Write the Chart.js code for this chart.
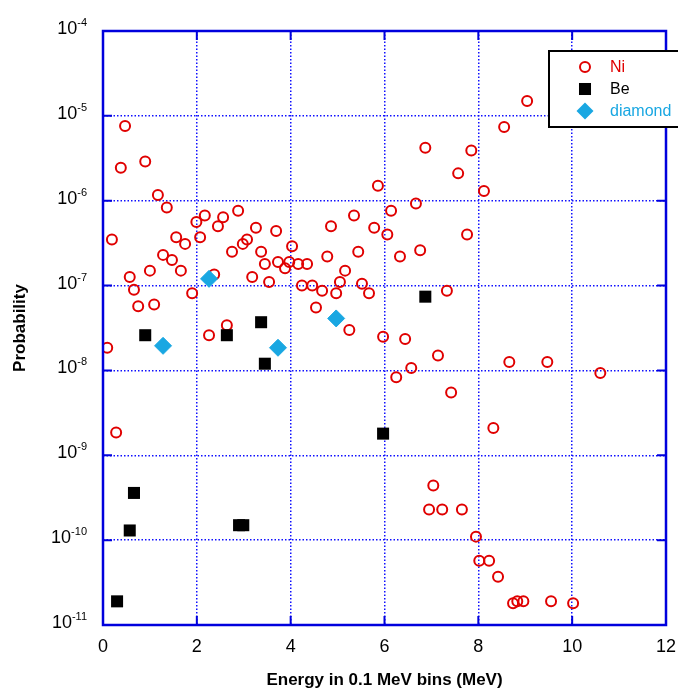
<!DOCTYPE html>
<html>
<head>
<meta charset="utf-8">
<script src="https://cdn.jsdelivr.net/npm/chart.js@4/dist/chart.umd.min.js"></script>
<style>
  body { margin: 0; background: #fff; }
  canvas { display: block; }
</style>
</head>
<body>
<canvas id="chart" width="678" height="691"></canvas>
<script>
// Ni points (energy, probability)
const niEnergy = [0.09, 0.19, 0.28, 0.38, 0.47, 0.57, 0.66, 0.75, 0.90, 1.00,
    1.09, 1.17, 1.28, 1.36, 1.47, 1.56, 1.66, 1.75, 1.90, 1.99,
    2.07, 2.17, 2.26, 2.37, 2.45, 2.56, 2.64, 2.75, 2.88, 2.98,
    3.07, 3.18, 3.26, 3.37, 3.45, 3.54, 3.69, 3.73, 3.88, 3.97,
    4.03, 4.16, 4.24, 4.35, 4.46, 4.54, 4.67, 4.78, 4.86, 4.97,
    5.05, 5.16, 5.25, 5.35, 5.44, 5.52, 5.67, 5.78, 5.86, 5.97,
    6.06, 6.14, 6.25, 6.33, 6.44, 6.57, 6.67, 6.76, 6.87, 6.95,
    7.04, 7.14, 7.23, 7.33, 7.42, 7.57, 7.65, 7.76, 7.85, 7.95,
    8.02, 8.12, 8.23, 8.32, 8.42, 8.55, 8.66, 8.74, 8.83, 8.96,
    9.04, 9.47, 9.55, 10.02, 10.6];
const niProb = [1.85e-8, 3.5e-7, 1.85e-9, 2.45e-6, 7.6e-6, 1.26e-7, 8.9e-8, 5.7e-8, 2.9e-6, 1.5e-7,
    6.0e-8, 1.17e-6, 2.3e-7, 8.3e-7, 2.0e-7, 3.7e-7, 1.5e-7, 3.1e-7, 8.1e-8, 5.6e-7,
    3.7e-7, 6.7e-7, 2.6e-8, 1.35e-7, 5.0e-7, 6.4e-7, 3.4e-8, 2.5e-7, 7.6e-7, 3.1e-7,
    3.5e-7, 1.26e-7, 4.8e-7, 2.5e-7, 1.8e-7, 1.1e-7, 4.4e-7, 1.9e-7, 1.6e-7, 1.9e-7,
    2.9e-7, 1.8e-7, 1.0e-7, 1.8e-7, 1.0e-7, 5.5e-8, 8.7e-8, 2.2e-7, 5.0e-7, 8.1e-8,
    1.1e-7, 1.5e-7, 3.0e-8, 6.7e-7, 2.5e-7, 1.05e-7, 8.1e-8, 4.8e-7, 1.5e-6, 2.5e-8,
    4.0e-7, 7.6e-7, 8.3e-9, 2.2e-7, 2.35e-8, 1.07e-8, 9.3e-7, 2.6e-7, 4.2e-6, 2.3e-10,
    4.4e-10, 1.5e-8, 2.3e-10, 8.7e-8, 5.5e-9, 2.1e-6, 2.3e-10, 4.0e-7, 3.9e-6, 1.1e-10,
    5.7e-11, 1.3e-6, 5.7e-11, 2.1e-9, 3.7e-11, 7.4e-6, 1.26e-8, 1.8e-11, 1.9e-11, 1.9e-11,
    1.5e-5, 1.26e-8, 1.9e-11, 1.8e-11, 9.3e-9];

// Be points
const beEnergy = [0.30, 0.57, 0.66, 0.90, 2.64, 2.90, 2.99, 3.37, 3.45, 5.97, 6.87];
const beProb = [1.9e-11, 1.3e-10, 3.6e-10, 2.6e-8, 2.6e-8, 1.5e-10, 1.5e-10, 3.7e-8, 1.2e-8, 1.8e-9, 7.4e-8];

// diamond points
const diaEnergy = [1.28, 2.26, 3.73, 4.97];
const diaProb = [1.95e-8, 1.2e-7, 1.85e-8, 4.1e-8];

// axis ticks
const xTicks = [0, 2, 4, 6, 8, 10, 12];
const yTickExps = [-11, -10, -9, -8, -7, -6, -5, -4];

const FONT = "Arial, 'Liberation Sans', sans-serif";
const BLUE = '#0000dd';
const RED = '#e00000';
const CYAN = '#19a7e2';

function toPoints(xs, ys) {
    return xs.map((x, i) => ({ x: x, y: ys[i] }));
}

// frame, inward ticks, y labels with exponents, legend
const decorPlugin = {
    id: 'decor',
    afterDatasetsDraw(chart) {
        const ctx = chart.ctx;
        const a = chart.chartArea;
        const xs = chart.scales.x;
        const ys = chart.scales.y;
        ctx.save();
        ctx.strokeStyle = BLUE;
        ctx.lineWidth = 2;
        xTicks.forEach(v => {
            const px = xs.getPixelForValue(v);
            ctx.beginPath();
            ctx.moveTo(px, a.bottom); ctx.lineTo(px, a.bottom - 9);
            ctx.moveTo(px, a.top); ctx.lineTo(px, a.top + 9);
            ctx.stroke();
        });
        yTickExps.forEach(e => {
            const py = ys.getPixelForValue(Math.pow(10, e));
            ctx.beginPath();
            ctx.moveTo(a.left, py); ctx.lineTo(a.left + 9, py);
            ctx.moveTo(a.right, py); ctx.lineTo(a.right - 9, py);
            ctx.stroke();
        });
        ctx.lineWidth = 2.5;
        ctx.strokeRect(a.left, a.top, a.right - a.left, a.bottom - a.top);

        // y tick labels 10^n
        ctx.fillStyle = '#000';
        ctx.textBaseline = 'alphabetic';
        yTickExps.forEach(e => {
            const py = ys.getPixelForValue(Math.pow(10, e));
            const exp = String(e);
            ctx.font = '11px ' + FONT;
            const we = ctx.measureText(exp).width;
            const right = 87;
            ctx.textAlign = 'left';
            ctx.fillText(exp, right - we, py - 5);
            ctx.font = '18px ' + FONT;
            ctx.textAlign = 'right';
            ctx.fillText('10', right - we, py + 3);
        });

        // legend
        const lx = 549, ly = 51, lh = 76;
        ctx.fillStyle = '#fff';
        ctx.fillRect(lx, ly, 200, lh);
        ctx.strokeStyle = '#000';
        ctx.lineWidth = 2;
        ctx.strokeRect(lx, ly, 200, lh);
        const rows = [67, 89, 111];
        ctx.font = '16px ' + FONT;
        ctx.textAlign = 'left';
        ctx.textBaseline = 'middle';
        chart.data.datasets.forEach((ds, i) => {
            const y = rows[i];
            const mx = 585;
            ctx.beginPath();
            if (ds.pointStyle === 'circle') {
                ctx.arc(mx, y, ds.pointRadius, 0, Math.PI * 2);
                ctx.lineWidth = ds.pointBorderWidth;
                ctx.strokeStyle = ds.pointBorderColor;
                ctx.stroke();
            } else if (ds.pointStyle === 'rect') {
                const s = ds.pointRadius * Math.SQRT1_2;
                ctx.fillStyle = ds.pointBackgroundColor;
                ctx.fillRect(mx - s, y - s, 2 * s, 2 * s);
            } else {
                const r = ds.pointRadius;
                ctx.moveTo(mx, y - r); ctx.lineTo(mx + r, y);
                ctx.lineTo(mx, y + r); ctx.lineTo(mx - r, y);
                ctx.closePath();
                ctx.fillStyle = ds.pointBackgroundColor;
                ctx.fill();
            }
            ctx.fillStyle = ds.labelColor;
            ctx.fillText(ds.label, 610, y + 1);
        });
        ctx.restore();
    }
};

new Chart(document.getElementById('chart'), {
    type: 'scatter',
    data: {
        datasets: [
            {
                label: 'Ni',
                data: toPoints(niEnergy, niProb),
                pointStyle: 'circle',
                pointRadius: 5,
                pointBorderWidth: 2,
                pointBorderColor: RED,
                pointBackgroundColor: 'rgba(255,255,255,0)',
                labelColor: RED,
                order: 2
            },
            {
                label: 'Be',
                data: toPoints(beEnergy, beProb),
                pointStyle: 'rect',
                pointRadius: 8.5,
                pointBorderWidth: 0,
                pointBorderColor: '#000',
                pointBackgroundColor: '#000',
                labelColor: '#000',
                order: 1
            },
            {
                label: 'diamond',
                data: toPoints(diaEnergy, diaProb),
                pointStyle: 'rectRot',
                pointRadius: 8.5,
                pointBorderWidth: 1,
                pointBorderColor: CYAN,
                pointBackgroundColor: CYAN,
                labelColor: CYAN,
                order: 0
            }
        ]
    },
    options: {
        responsive: false,
        animation: false,
        events: [],
        layout: { padding: { top: 31, right: 12, left: 0, bottom: 0 } },
        plugins: {
            legend: { display: false },
            tooltip: { enabled: false }
        },
        scales: {
            x: {
                type: 'linear',
                min: 0,
                max: 12,
                afterBuildTicks: s => { s.ticks = xTicks.map(v => ({ value: v })); },
                afterFit: s => { s.height = 66; s.paddingLeft = 0; s.paddingRight = 0; },
                grid: { color: '#1010ff', lineWidth: 1.5, drawTicks: false },
                border: { display: false, dash: [1.5, 2] },
                ticks: {
                    padding: 11,
                    color: '#000',
                    font: { family: FONT, size: 18 },
                    maxRotation: 0
                },
                title: {
                    display: true,
                    text: 'Energy in 0.1 MeV bins (MeV)',
                    color: '#000',
                    font: { family: FONT, size: 17, weight: 'bold' },
                    padding: { top: 0, bottom: 0 }
                }
            },
            y: {
                type: 'logarithmic',
                min: 1e-11,
                max: 1e-4,
                afterBuildTicks: s => { s.ticks = yTickExps.map(e => ({ value: Math.pow(10, e) })); },
                afterFit: s => { s.width = 103; s.paddingTop = 0; s.paddingBottom = 0; },
                grid: { color: '#1010ff', lineWidth: 1.5, drawTicks: false },
                border: { display: false, dash: [1.5, 2] },
                ticks: { callback: () => '' },
                title: {
                    display: true,
                    text: 'Probability',
                    color: '#000',
                    font: { family: FONT, size: 17, weight: 'bold' },
                    padding: { top: 10, bottom: 0 }
                }
            }
        }
    },
    plugins: [decorPlugin]
});
</script>
</body>
</html>
